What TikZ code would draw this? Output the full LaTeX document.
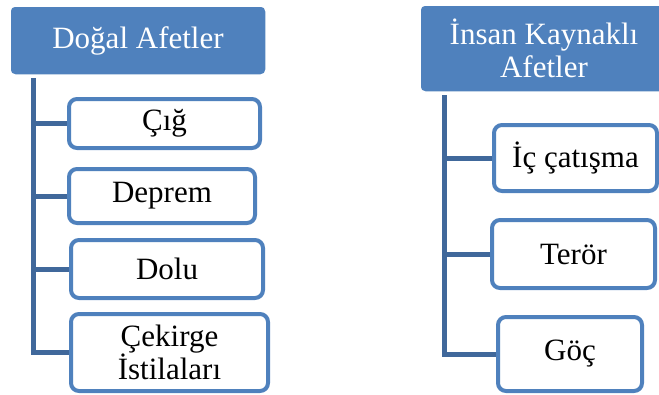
\documentclass[tikz,border=0pt]{standalone}
\usepackage{fontspec}
\setmainfont{Liberation Serif}
\definecolor{accent}{HTML}{4F81BD}
\definecolor{linkc}{HTML}{40689B}
\begin{document}
\begin{tikzpicture}[x=1pt,y=-1pt,
  header/.style={fill=accent,draw=white,line width=1.5pt,rounded corners=5pt,inner sep=0pt,text=white,align=center,font=\fontsize{31}{33}\selectfont},
  itembox/.style={fill=white,draw=accent,line width=4pt,rounded corners=8pt,inner sep=0pt,text=black,align=center,font=\fontsize{31}{33}\selectfont},
  link/.style={draw=linkc,line width=5pt}]
\useasboundingbox (0,0) rectangle (659,394);
\begin{scope}
\clip (0,0) rectangle (659,394);
% left tree
\node[header,minimum width=256pt,minimum height=69pt] (h1) at (138,40.5) {Doğal Afetler};
\node[itembox,minimum width=191pt,minimum height=49pt] (a1) at (164.5,123.5) {Çığ};
\node[itembox,minimum width=186pt,minimum height=54pt] (a2) at (162,196) {Deprem};
\node[itembox,minimum width=192pt,minimum height=58pt] (a3) at (167,269) {Dolu};
\node[itembox,minimum width=197pt,minimum height=77pt] (a4) at (169.5,352.5) {Çekirge\\İstilaları};
\coordinate (l0) at (33.5,78);
\draw[link] (l0) |- (a1.west);
\draw[link] (l0) |- (a2.west);
\draw[link] (l0) |- (a3.west);
\draw[link] (l0) |- (a4.west);
% right tree
\node[header,minimum width=248pt,minimum height=87pt] (h2) at (544,48.5) {İnsan Kaynaklı\\Afetler};
\node[itembox,minimum width=163pt,minimum height=66pt] (b1) at (575.5,158) {İç çatışma};
\node[itembox,minimum width=163pt,minimum height=68pt] (b2) at (573.5,254) {Terör};
\node[itembox,minimum width=144pt,minimum height=74pt] (b3) at (570,354) {Göç};
\coordinate (r0) at (444.5,95);
\draw[link] (r0) |- (b1.west);
\draw[link] (r0) |- (b2.west);
\draw[link] (r0) |- (b3.west);
\end{scope}
\end{tikzpicture}
\end{document}
